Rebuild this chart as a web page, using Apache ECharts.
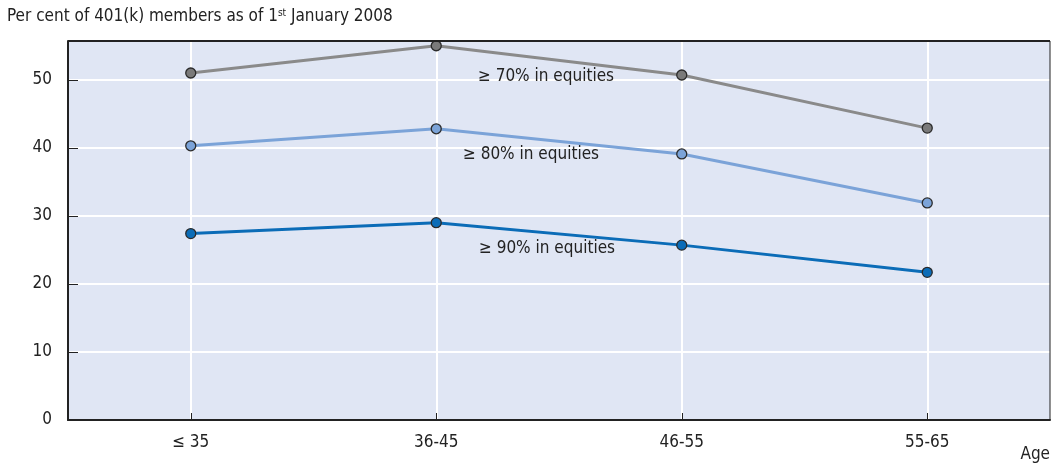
<!DOCTYPE html>
<html>
<head>
<meta charset="utf-8">
<script src="https://cdn.jsdelivr.net/npm/echarts@6/dist/echarts.min.js"></script>
<style>
html,body{margin:0;padding:0;background:#fff;}
#main{width:1051px;height:464px;}
</style>
</head>
<body>
<div id="main"></div>
<script>
// 年齡組別
let ageGroups = ['≤ 35', '36-45', '46-55', '55-65'];
// 股票比重
let eq70 = [51.0, 55.0, 50.7, 42.9];
let eq80 = [40.3, 42.8, 39.1, 31.9];
let eq90 = [27.4, 29.0, 25.7, 21.7];
let yTicks = [0, 10, 20, 30, 40, 50];

let FONT = '"Liberation Sans Narrow", "DejaVu Sans Condensed", sans-serif';
let myChart = echarts.init(document.getElementById('main'));

function lineSeries(name, data, lineColor, dotColor){
    return {
        name: name,
        type: 'line',
        data: data,
        symbol: 'circle',
        symbolSize: 10,
        lineStyle: { color: lineColor, width: 3 },
        itemStyle: { color: dotColor, borderColor: '#2b2b2b', borderWidth: 1.3 },
        z: 3
    };
}

let option = {
    animation: false,
    textStyle: { fontFamily: FONT },
    grid: { left: 68, right: 1, top: 41, bottom: 44, show: true, backgroundColor: '#e0e6f4', borderWidth: 0 },
    xAxis: {
        type: 'category',
        data: ageGroups,
        boundaryGap: true,
        axisLine: { lineStyle: { color: '#222', width: 2 } },
        axisTick: { show: true, inside: true, alignWithLabel: true, length: 7, lineStyle: { color: '#222' } },
        axisLabel: { color: '#222', fontSize: 17, margin: 14, fontFamily: FONT },
        splitLine: { show: true, alignWithLabel: true, lineStyle: { color: '#fff', width: 2 } }
    },
    yAxis: {
        type: 'value',
        min: 0,
        max: 55.7,
        interval: 10,
        axisLine: { show: true, lineStyle: { color: '#222', width: 2 } },
        axisTick: { show: true, inside: true, length: 10, lineStyle: { color: '#222' } },
        axisLabel: {
            color: '#222', fontSize: 17, margin: 16, fontFamily: FONT,
            formatter: function(v){ return yTicks.indexOf(v) >= 0 ? String(v) : ''; }
        },
        splitLine: { show: true, lineStyle: { color: '#fff', width: 2 } }
    },
    series: [
        lineSeries('≥ 70% in equities', eq70, '#8a8a8a', '#7a7a7a'),
        lineSeries('≥ 80% in equities', eq80, '#7ba3d8', '#7ba3d8'),
        lineSeries('≥ 90% in equities', eq90, '#0b6cb7', '#0b6cb7')
    ],
    graphic: [
        { type: 'line', shape: { x1: 68, y1: 41, x2: 1050, y2: 41 }, style: { stroke: '#222', lineWidth: 2 }, z: 10 },
        { type: 'line', shape: { x1: 1050, y1: 41, x2: 1050, y2: 420 }, style: { stroke: '#222', lineWidth: 1 }, z: 10 },
        {
            type: 'text', left: 7, top: 8, z: 10,
            style: {
                text: '{a|Per cent of 401(k) members as of 1}{s|st}{a| January 2008}',
                rich: {
                    a: { fontSize: 17, fill: '#222', fontFamily: FONT },
                    s: { fontSize: 10, fill: '#222', fontFamily: FONT, verticalAlign: 'top', padding: [0, 0, 8, 0] }
                }
            }
        },
        { type: 'text', right: 1, top: 446, z: 10, style: { text: 'Age', fontSize: 17, fill: '#222', fontFamily: FONT } },
        { type: 'text', x: 546, y: 77, z: 10, style: { text: '≥ 70% in equities', fontSize: 17, fill: '#222', fontFamily: FONT, align: 'center', verticalAlign: 'middle' } },
        { type: 'text', x: 531, y: 155, z: 10, style: { text: '≥ 80% in equities', fontSize: 17, fill: '#222', fontFamily: FONT, align: 'center', verticalAlign: 'middle' } },
        { type: 'text', x: 547, y: 249, z: 10, style: { text: '≥ 90% in equities', fontSize: 17, fill: '#222', fontFamily: FONT, align: 'center', verticalAlign: 'middle' } }
    ]
};

myChart.setOption(option);
window.onresize = function () {
    myChart.resize();
};
</script>
</body>
</html>
